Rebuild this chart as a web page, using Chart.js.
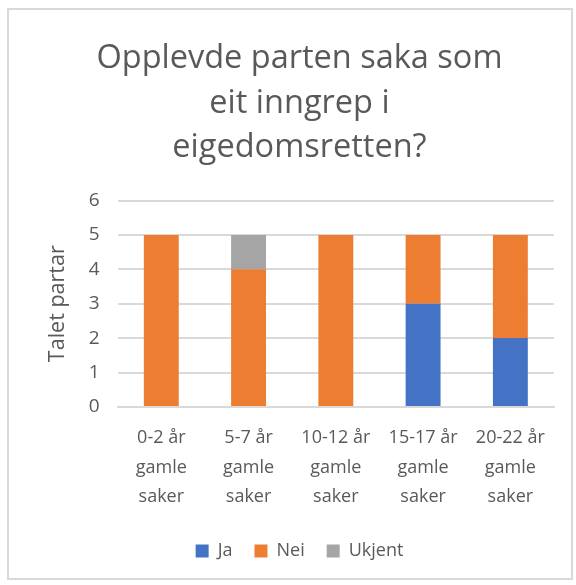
<!DOCTYPE html>
<html>
<head>
<meta charset="utf-8">
<script src="https://cdn.jsdelivr.net/npm/chart.js@4.4.0/dist/chart.umd.min.js"></script>
<style>
  html, body { margin: 0; padding: 0; background: #fff; }
  #frame {
    position: absolute; left: 7px; top: 8px; width: 566px; height: 572px;
    border: 2px solid #d9d9d9; box-sizing: border-box;
  }
  #wrap { position: absolute; left: 0; top: 0; width: 576px; height: 585px; }
</style>
</head>
<body>
<div id="frame"></div>
<div id="wrap"><canvas id="chart" width="576" height="585"></canvas></div>
<script>
// chart data
var categories = [
    ['0-2 år', 'gamle', 'saker'],
    ['5-7 år', 'gamle', 'saker'],
    ['10-12 år', 'gamle', 'saker'],
    ['15-17 år', 'gamle', 'saker'],
    ['20-22 år', 'gamle', 'saker']
];
var jaValues = [0, 0, 0, 3, 2];
var neiValues = [5, 4, 5, 2, 3];
var ukjentValues = [0, 1, 0, 0, 0];
var yTicks = [0, 1, 2, 3, 4, 5, 6];

var fontFamily = '"Open Sans", "Noto Sans", sans-serif';
var textColor = '#595959';

Chart.defaults.font.family = fontFamily;
Chart.defaults.color = textColor;

var ctx = document.getElementById('chart').getContext('2d');
var chart = new Chart(ctx, {
    type: 'bar',
    data: {
        labels: categories,
        datasets: [
            { label: 'Ja', data: jaValues, backgroundColor: '#4472c4' },
            { label: 'Nei', data: neiValues, backgroundColor: '#ed7d31' },
            { label: 'Ukjent', data: ukjentValues, backgroundColor: '#a5a5a5' }
        ]
    },
    options: {
        responsive: false,
        animation: false,
        layout: { padding: { left: 45, right: 22, top: 36, bottom: 15 } },
        datasets: { bar: { categoryPercentage: 1, barPercentage: 0.4 } },
        plugins: {
            title: {
                display: true,
                text: ['Opplevde parten saka som', 'eit inngrep i', 'eigedomsretten?'],
                font: { size: 32.5, weight: 'normal', lineHeight: 1.38 },
                color: textColor,
                padding: { top: 0, bottom: 30 }
            },
            legend: {
                position: 'bottom',
                labels: {
                    boxWidth: 13, boxHeight: 13,
                    font: { size: 18 },
                    color: textColor,
                    padding: 22
                }
            },
            tooltip: { enabled: false }
        },
        scales: {
            x: {
                stacked: true,
                grid: { display: false },
                border: { color: '#d9d9d9', width: 2 },
                ticks: { font: { size: 18, lineHeight: 1.65 }, color: textColor, maxRotation: 0, autoSkip: false, padding: 8 }
            },
            y: {
                stacked: true,
                min: 0,
                max: yTicks[yTicks.length - 1],
                afterBuildTicks: function (axis) {
                    axis.ticks = yTicks.map(function (v) { return { value: v }; });
                },
                grid: { color: '#d9d9d9', lineWidth: 2, drawTicks: false },
                border: { display: false },
                ticks: { font: { size: 19 }, color: textColor, padding: 18 },
                title: {
                    display: true,
                    text: 'Talet partar',
                    font: { size: 21.5 },
                    color: textColor,
                    padding: { top: 0, bottom: 0 }
                }
            }
        }
    }
});
</script>
</body>
</html>
